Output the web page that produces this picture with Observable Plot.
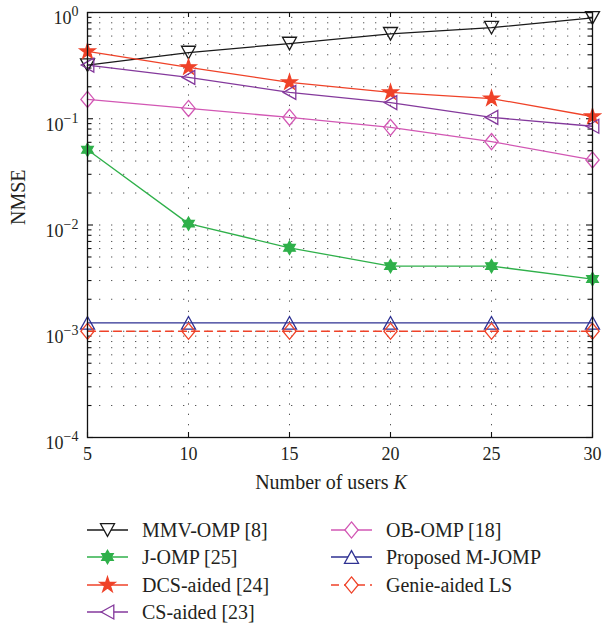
<!DOCTYPE html>
<html><head><meta charset="utf-8">
<script src="https://cdn.jsdelivr.net/npm/d3@7"></script>
<script src="https://cdn.jsdelivr.net/npm/@observablehq/plot@0.6"></script>
<style>
body{margin:0;background:#fff;font-family:"Liberation Serif",serif;}
#chart svg{display:block;}
#legend{position:relative;width:602px;height:125px;}
.item{position:absolute;display:flex;align-items:center;font-size:20px;color:#231f20;height:26px;white-space:nowrap;}
.item svg{display:block;overflow:visible;}
</style></head><body><div id="chart"></div><div id="legend"></div>
<script>
// ---- data ----
const K = [5, 10, 15, 20, 25, 30];
const seriesNames = ["MMV-OMP [8]", "J-OMP [25]", "DCS-aided [24]", "CS-aided [23]", "OB-OMP [18]", "Proposed M-JOMP", "Genie-aided LS"];
const mmvOmp   = [0.32, 0.42, 0.51, 0.63, 0.72, 0.89];
const jOmp     = [0.051, 0.0103, 0.0061, 0.0041, 0.0041, 0.0031];
const dcsAided = [0.43, 0.305, 0.22, 0.177, 0.155, 0.105];
const csAided  = [0.32, 0.245, 0.177, 0.142, 0.103, 0.085];
const obOmp    = [0.152, 0.125, 0.103, 0.083, 0.061, 0.041];
const proposed = [0.0012, 0.0012, 0.0012, 0.0012, 0.0012, 0.0012];
const genieLS  = [0.001, 0.001, 0.001, 0.001, 0.001, 0.001];
const xTickValues = [5, 10, 15, 20, 25, 30];
const yTickValues = [1e-4, 1e-3, 1e-2, 1e-1, 1];
const xLabel = "Number of users K";
const yLabel = "NMSE";

// ---- marker shapes ----
function poly(c, pts){ c.moveTo(pts[0][0], pts[0][1]); for (const p of pts.slice(1)) c.lineTo(p[0], p[1]); c.closePath(); }
function star(c, n, ro, ri){
  const pts = [];
  for (let i = 0; i < 2*n; i++){ const a = -Math.PI/2 + i*Math.PI/n; const rr = i%2 ? ri : ro; pts.push([rr*Math.cos(a), rr*Math.sin(a)]); }
  poly(c, pts);
}
const shapes = {
  down: (c,r)=>poly(c,[[-r,-r*0.9],[r,-r*0.9],[0,r*0.9]]),
  up: (c,r)=>poly(c,[[-r,r*0.9],[r,r*0.9],[0,-r*0.9]]),
  left: (c,r)=>poly(c,[[r*0.9,-r],[r*0.9,r],[-r*0.9,0]]),
  diamond: (c,r)=>poly(c,[[0,-r*1.15],[r*0.95,0],[0,r*1.15],[-r*0.95,0]]),
  pentagram: (c,r)=>star(c,5,r*1.15,r*1.15*0.382),
  hexagram: (c,r)=>star(c,6,r*0.95,r*0.95*0.577)
};
const sym = name => ({draw(ctx, size){ shapes[name](ctx, Math.sqrt(size/Math.PI)); }});

const styles = [
  {values: mmvOmp,   color: "#1a1a1a", shape: "down",      filled: false, dash: null},
  {values: jOmp,     color: "#2fb04a", shape: "hexagram",  filled: true,  dash: null},
  {values: dcsAided, color: "#ef4228", shape: "pentagram", filled: true,  dash: null},
  {values: csAided,  color: "#84399c", shape: "left",      filled: false, dash: null},
  {values: obOmp,    color: "#d257b4", shape: "diamond",   filled: false, dash: null},
  {values: proposed, color: "#2e3192", shape: "up",        filled: false, dash: null},
  {values: genieLS,  color: "#ef4228", shape: "diamond",   filled: false, dash: "8,5"}
];

// ---- grid values ----
const yMinor = [];
for (let e = -4; e < 0; e++) for (let m = 2; m <= 9; m++) yMinor.push(m * Math.pow(10, e));
const yGrid = yTickValues.slice(1, -1).concat(yMinor);
const xGrid = xTickValues.slice(1, -1);

const W = 602, ML = 87, MR = 10, MT = 12, MB = 63, H = 500;
const innerW = W - ML - MR, innerH = H - MT - MB;

const marks = [
  Plot.ruleY(yGrid, {stroke: "#555", strokeWidth: 1, strokeDasharray: "1.3,10.7"}),
  Plot.ruleX(xGrid, {stroke: "#555", strokeWidth: 1, strokeDasharray: "1.3,9"}),
  // inward ticks
  Plot.tickY(yTickValues, {stroke: "#111", strokeWidth: 1.1, insetRight: innerW - 6}),
  Plot.tickY(yTickValues, {stroke: "#111", strokeWidth: 1.1, insetLeft: innerW - 6}),
  Plot.tickY(yMinor, {stroke: "#111", strokeWidth: 1.1, insetRight: innerW - 4.5}),
  Plot.tickY(yMinor, {stroke: "#111", strokeWidth: 1.1, insetLeft: innerW - 4.5}),
  Plot.tickX(xTickValues, {stroke: "#111", strokeWidth: 1.1, insetTop: innerH - 5}),
  Plot.tickX(xTickValues, {stroke: "#111", strokeWidth: 1.1, insetBottom: innerH - 5}),
  Plot.axisX(xTickValues, {tickSize: 0, tickPadding: 10, fontSize: 18, label: null, tickFormat: d => String(d)}),
  Plot.axisY(yTickValues, {tickSize: 0, tickPadding: 9, fontSize: 18, label: null, dy: 6, tickFormat: d => "10|" + Math.round(Math.log10(d))}),
  Plot.text([xLabel], {frameAnchor: "bottom", dy: 51, dx: -9, fontSize: 20, text: d => d}),
  Plot.text([yLabel], {frameAnchor: "left", dx: -69, rotate: -90, fontSize: 20, text: d => d})
];

styles.forEach(s => {
  const rows = K.map((k, i) => ({K: k, v: s.values[i]}));
  marks.push(Plot.line(rows, {x: "K", y: "v", stroke: s.color, strokeWidth: 1.3, strokeDasharray: s.dash || undefined}));
});
styles.forEach(s => {
  const rows = K.map((k, i) => ({K: k, v: s.values[i]}));
  marks.push(Plot.dot(rows, {x: "K", y: "v", r: 7, symbol: sym(s.shape), stroke: s.color, strokeWidth: 1.3, fill: s.filled ? s.color : "none"}));
});
marks.push(Plot.frame({stroke: "#111", strokeWidth: 1.3}));

const chart = Plot.plot({
  width: W, height: H, marginLeft: ML, marginRight: MR, marginTop: MT, marginBottom: MB,
  style: {fontFamily: "'Liberation Serif', serif", color: "#231f20", background: "#fff", overflow: "visible"},
  x: {domain: [5, 30]},
  y: {type: "log", domain: [1e-4, 1]},
  marks
});
document.getElementById("chart").appendChild(chart);

// superscripts on y tick labels, italic K in x label
const svg = d3.select(chart);
svg.selectAll("text").each(function(){
  const t = this.textContent;
  if (t.startsWith("10|")) {
    const e = t.slice(3).replace("-", "\u2212");
    this.textContent = "10";
    d3.select(this).append("tspan").attr("dy", -8).attr("font-size", 14).text(e);
  } else if (t === xLabel) {
    this.textContent = "Number of users ";
    d3.select(this).append("tspan").attr("font-style", "italic").text("K");
  }
});

// ---- legend ----
const legend = d3.select("#legend");
const colLeft = [87, 331], rowCenter = [30, 57, 85, 112];
styles.forEach((s, i) => {
  const col = i < 4 ? 0 : 1, row = i < 4 ? i : i - 4;
  const item = legend.append("div").attr("class", "item")
    .style("left", colLeft[col] + "px").style("top", (rowCenter[row] - 13) + "px");
  const sv = item.append("svg").attr("width", 41).attr("height", 26);
  sv.append("line").attr("x1", 0).attr("x2", 41).attr("y1", 13).attr("y2", 13)
    .attr("stroke", s.color).attr("stroke-width", 1.3).attr("stroke-dasharray", s.dash);
  const p = d3.path(); shapes[s.shape](p, 7);
  sv.append("path").attr("d", p.toString()).attr("transform", "translate(20.5,13)")
    .attr("stroke", s.color).attr("stroke-width", 1.3).attr("fill", s.filled ? s.color : "white");
  item.append("span").style("margin-left", "14px").text(seriesNames[i]);
});
</script></body></html>
